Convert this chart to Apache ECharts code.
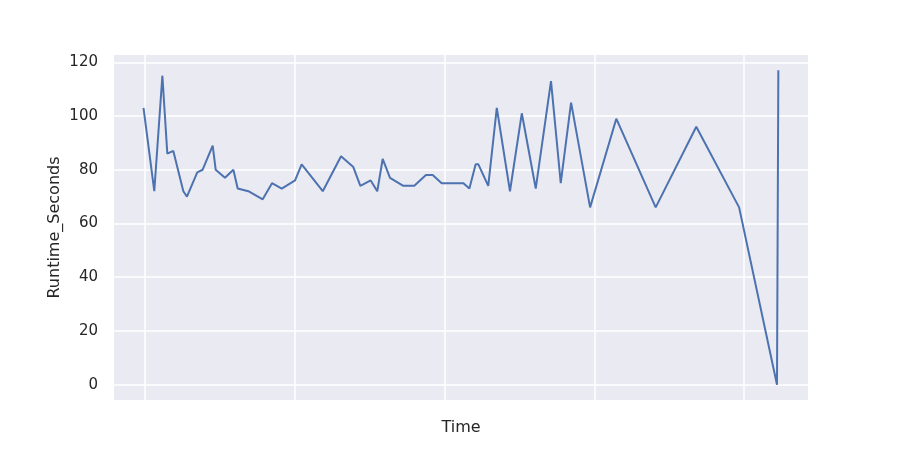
<!DOCTYPE html>
<html>
<head>
<meta charset="utf-8">
<script src="https://cdn.jsdelivr.net/npm/echarts@6/dist/echarts.min.js"></script>
<style>
  html, body { margin: 0; padding: 0; background: #fff; }
  #chart { width: 900px; height: 450px; }
</style>
</head>
<body>
<div id="chart"></div>
<script>
// x is in grid steps along the Time axis (one step = one vertical grid line)
var timeSteps = [
  -0.01, 0.062, 0.116, 0.149, 0.189, 0.256, 0.280, 0.349, 0.385, 0.452,
  0.472, 0.534, 0.590, 0.619, 0.690, 0.786, 0.848, 0.913, 1.002, 1.046,
  1.187, 1.309, 1.391, 1.438, 1.507, 1.551, 1.587, 1.636, 1.725, 1.798,
  1.876, 1.921, 1.981, 2.126, 2.166, 2.208, 2.226, 2.292, 2.349, 2.437,
  2.516, 2.609, 2.711, 2.776, 2.845, 2.972, 3.147, 3.410, 3.681, 3.967,
  4.220, 4.229
];
var runtimeSeconds = [
  103, 72, 115, 86, 87, 72, 70, 79, 80, 89,
  80, 77, 80, 73, 72, 69, 75, 73, 76, 82,
  72, 85, 81, 74, 76, 72, 84, 77, 74, 74,
  78, 78, 75, 75, 73, 82, 82, 74, 103, 72,
  101, 73, 113, 75, 105, 66, 99, 66, 96, 66,
  0, 117
];
var yTicks = [0, 20, 40, 60, 80, 100, 120];
var xGridTicks = [0, 1, 2, 3, 4];

var chart = echarts.init(document.getElementById('chart'));

var points = [];
for (var i = 0; i < timeSteps.length; i++) {
  points.push([timeSteps[i], runtimeSeconds[i]]);
}

var txt = '#262626';
var font = 'DejaVu Sans';

var option = {
  animation: false,
  backgroundColor: '#ffffff',
  grid: {
    left: 114, right: 92, top: 55, bottom: 50,
    show: true,
    backgroundColor: '#eaeaf2',
    borderWidth: 0
  },
  xAxis: {
    type: 'value',
    min: -0.207,
    max: 4.427,
    name: 'Time',
    nameLocation: 'middle',
    nameGap: 20,
    nameMoveOverlap: false,
    nameTextStyle: { color: txt, fontSize: 16, fontFamily: font },
    axisLine: { show: false },
    axisTick: { show: false, customValues: xGridTicks },
    axisLabel: { show: false, customValues: xGridTicks },
    splitLine: { show: true, lineStyle: { color: '#ffffff', width: 1.5 } }
  },
  yAxis: {
    type: 'value',
    min: -5.7,
    max: 122.7,
    name: 'Runtime_Seconds',
    nameLocation: 'middle',
    nameGap: 51,
    nameMoveOverlap: false,
    nameTextStyle: { color: txt, fontSize: 16, fontFamily: font },
    axisLine: { show: false },
    axisTick: { show: false, customValues: yTicks },
    axisLabel: {
      customValues: yTicks,
      color: txt, fontSize: 15, fontFamily: font, margin: 16
    },
    splitLine: { show: true, lineStyle: { color: '#ffffff', width: 1.5 } }
  },
  series: [{
    type: 'line',
    data: points,
    showSymbol: false,
    symbol: 'none',
    lineStyle: { color: '#4c72b0', width: 2 },
    itemStyle: { color: '#4c72b0' }
  }]
};

chart.setOption(option);
</script>
</body>
</html>
